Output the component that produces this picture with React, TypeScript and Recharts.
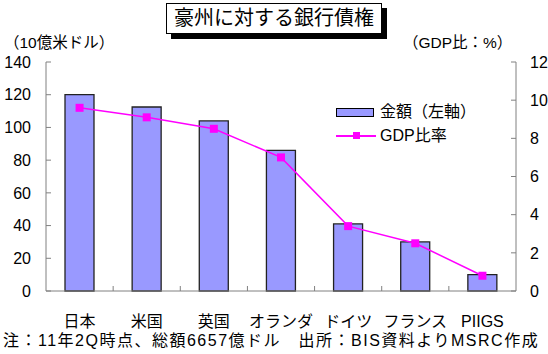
import { ComposedChart, Bar, Line, XAxis, YAxis } from 'recharts'

const countries = ['日本', '米国', '英国', 'オランダ', 'ドイツ', 'フランス', 'PIIGS']
const claims = [120, 112.5, 104, 86, 41, 30, 10] // 10億米ドル
const gdpRatio = [9.6, 9.1, 8.5, 7.0, 3.4, 2.5, 0.8] // %
const leftTicks = [0, 20, 40, 60, 80, 100, 120, 140]
const rightTicks = [0, 2, 4, 6, 8, 10, 12]

const data = countries.map((name, i) => ({
  name,
  claims: claims[i],
  gdp: gdpRatio[i],
}))

const FONT = '"Liberation Sans", "Noto Sans CJK JP", sans-serif'
const AXIS = '#808080'
const BAR = '#9999ff'
const LINE = '#ff00ff'

function CategoryTick(props: any) {
  const { x, y, payload, index, width, visibleTicksCount } = props
  const band = width && visibleTicksCount ? width / visibleTicksCount : 67
  return (
    <g>
      {index < visibleTicksCount - 1 && (
        <line x1={x + band / 2} x2={x + band / 2} y1={y} y2={y - 5} stroke={AXIS} />
      )}
      <text x={x} y={y} dy={36} textAnchor="middle" fill="#000" fontSize={16} fontFamily={FONT}>
        {payload.value}
      </text>
    </g>
  )
}

function SquareDot(props: any) {
  const { cx, cy } = props
  if (cx == null || cy == null) return null
  return <rect x={cx - 4} y={cy - 4} width={8} height={8} fill={LINE} />
}

export default function App() {
  return (
    <div style={{ position: 'absolute', left: 0, top: 0, width: 548, height: 354, background: '#fff', fontFamily: FONT }}>
      <ComposedChart
        width={548}
        height={354}
        data={data}
        margin={{ top: 62, right: 0, bottom: 33, left: 0 }}
      >
        <XAxis
          dataKey="name"
          height={30}
          stroke={AXIS}
          tickLine={false}
          tickSize={0}
          tickMargin={0}
          tick={<CategoryTick />}
          interval={0}
        />
        <YAxis
          yAxisId="left"
          orientation="left"
          width={46}
          domain={[0, 140]}
          ticks={leftTicks}
          stroke={AXIS}
          tickSize={-5}
          tickMargin={20}
          tick={{ fill: '#000', fontSize: 16, fontFamily: FONT }}
        />
        <YAxis
          yAxisId="right"
          orientation="right"
          width={32}
          domain={[0, 12]}
          ticks={rightTicks}
          stroke={AXIS}
          tickSize={-5}
          tickMargin={19}
          tick={{ fill: '#000', fontSize: 16, fontFamily: FONT, textAnchor: 'start' }}
        />
        <Bar
          yAxisId="left"
          dataKey="claims"
          fill={BAR}
          stroke="#222"
          strokeWidth={1.3}
          barSize={29}
          isAnimationActive={false}
        />
        <Line
          yAxisId="right"
          dataKey="gdp"
          stroke={LINE}
          strokeWidth={1.5}
          dot={<SquareDot />}
          activeDot={false}
          isAnimationActive={false}
        />
      </ComposedChart>

      {/* title box with shadow */}
      <div
        style={{
          position: 'absolute',
          left: 166,
          top: 3,
          width: 214,
          height: 29,
          border: '1px solid #000',
          boxShadow: '5px 5px 0 #000',
          background: '#fff',
          fontSize: 20,
          lineHeight: '29px',
          textAlign: 'center',
        }}
      >
        豪州に対する銀行債権
      </div>

      <div style={{ position: 'absolute', left: 4, top: 34, fontSize: 15.5, lineHeight: '18px' }}>（10億米ドル）</div>
      <div style={{ position: 'absolute', left: 403, top: 34, fontSize: 15.5, lineHeight: '18px' }}>（GDP比：%）</div>

      {/* legend */}
      <div style={{ position: 'absolute', left: 336, top: 102, fontSize: 16, lineHeight: '20px' }}>
        <div style={{ display: 'flex', alignItems: 'center', height: 20 }}>
          <span style={{ display: 'inline-block', width: 36, height: 7, background: BAR, border: '1px solid #000', marginRight: 6 }} />
          <span>金額（左軸）</span>
        </div>
        <div style={{ display: 'flex', alignItems: 'center', height: 20, marginTop: 4 }}>
          <span style={{ position: 'relative', display: 'inline-block', width: 40, height: 8, marginRight: 4 }}>
            <span style={{ position: 'absolute', left: 0, top: 3, width: 40, height: 1.5, background: LINE }} />
            <span style={{ position: 'absolute', left: 17, top: 0, width: 7, height: 7, background: LINE }} />
          </span>
          <span>GDP比率</span>
        </div>
      </div>

      <div style={{ position: 'absolute', left: 3, top: 331, fontSize: 16, letterSpacing: 1.5, lineHeight: '20px', whiteSpace: 'nowrap' }}>
        注：11年2Q時点、総額6657億ドル　出所：BIS資料よりMSRC作成
      </div>
    </div>
  )
}
